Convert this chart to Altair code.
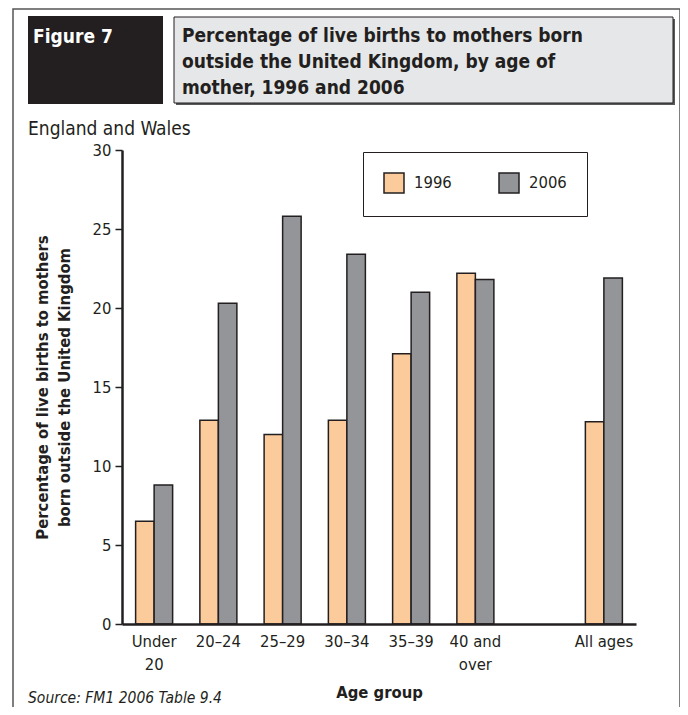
import altair as alt
import pandas as pd

categories = ["Under|20", "20–24", "25–29", "30–34", "35–39", "40 and|over", " ", "All ages"]
data_categories = ["Under|20", "20–24", "25–29", "30–34", "35–39", "40 and|over", "All ages"]
values_1996 = [6.5, 12.9, 12.0, 12.9, 17.1, 22.2, 12.8]
values_2006 = [8.8, 20.3, 25.8, 23.4, 21.0, 21.8, 21.9]
series = ["1996", "2006"]
colors = ["#fccb9c", "#939598"]
y_ticks = [0, 5, 10, 15, 20, 25, 30]

rows = []
for c, a, b in zip(data_categories, values_1996, values_2006):
    rows.append({"age": c, "year": "1996", "pct": a})
    rows.append({"age": c, "year": "2006", "pct": b})
df = pd.DataFrame(rows)

FONT = "Liberation Sans Narrow, DejaVu Sans Condensed, Liberation Sans, sans-serif"
INK = "#231f20"
W, H = 514, 474

bars = alt.Chart(df).mark_bar(stroke=INK, strokeWidth=1.5).encode(
    x=alt.X("age:N", sort=categories,
            scale=alt.Scale(domain=categories, paddingInner=0.424, paddingOuter=0.212),
            axis=alt.Axis(title="Age group", labelAngle=0, ticks=False, zindex=1,
                          labelExpr="split(datum.label, '|')",
                          labelFontSize=16.5, labelFont=FONT, labelColor=INK,
                          labelLineHeight=23, labelPadding=9, labelBaseline="top",
                          titleFontSize=16.5, titleFont=FONT, titleFontWeight="bold",
                          titleColor=INK, titlePadding=12,
                          domainColor=INK, domainWidth=2.5)),
    xOffset=alt.XOffset("year:N", sort=series),
    y=alt.Y("pct:Q", scale=alt.Scale(domain=[0, 30], nice=False),
            axis=alt.Axis(values=y_ticks, title=["Percentage of live births to mothers",
                                                  "born outside the United Kingdom"],
                          grid=False, tickSize=7, tickWidth=1.5, tickColor=INK, zindex=1,
                          labelFontSize=16.5, labelFont=FONT, labelColor=INK, labelPadding=4,
                          titleFontSize=16.5, titleFont=FONT, titleFontWeight="bold",
                          titleColor=INK, titleLineHeight=22, titlePadding=20,
                          domainColor=INK, domainWidth=2.5)),
    color=alt.Color("year:N", scale=alt.Scale(domain=series, range=colors),
                    legend=alt.Legend(title=None, orient="none", legendX=241, legendY=2,
                                      direction="horizontal", strokeColor=INK,
                                      fillColor="white", padding=20, symbolType="square",
                                      symbolSize=400, symbolStrokeColor=INK,
                                      symbolStrokeWidth=1.5, labelFontSize=16.5,
                                      labelFont=FONT, labelColor=INK, labelOffset=9,
                                      columnPadding=44, symbolOpacity=1)),
)

one = pd.DataFrame({"k": [0]})

frame = alt.Chart(one).mark_rect(fill="white", fillOpacity=0, stroke="#555555",
                                 strokeWidth=1.5).encode(
    x=alt.value(-109), x2=alt.value(558), y=alt.value(-141), y2=alt.value(600))

black_box = alt.Chart(one).mark_rect(fill="#231f20").encode(
    x=alt.value(-94), x2=alt.value(41), y=alt.value(-134), y2=alt.value(-46))

shadow = alt.Chart(one).mark_rect(fill="#58595b").encode(
    x=alt.value(54), x2=alt.value(553), y=alt.value(-131), y2=alt.value(-45))

gray_box = alt.Chart(one).mark_rect(fill="#e6e7e8", stroke=INK, strokeWidth=1).encode(
    x=alt.value(52), x2=alt.value(551), y=alt.value(-133), y2=alt.value(-47))

fig_label = alt.Chart(pd.DataFrame({"t": ["Figure 7"]})).mark_text(
    align="left", baseline="alphabetic", font=FONT, fontSize=19, fontWeight="bold",
    color="white").encode(x=alt.value(-89), y=alt.value(-107), text="t:N")

title_lines = ["Percentage of live births to mothers born",
               "outside the United Kingdom, by age of",
               "mother, 1996 and 2006"]
title = alt.Chart(pd.DataFrame({"t": [title_lines]})).mark_text(
    align="left", baseline="alphabetic", font=FONT, fontSize=19, fontWeight="bold",
    color=INK, lineHeight=26).encode(x=alt.value(60), y=alt.value(-108), text="t")

subtitle = alt.Chart(pd.DataFrame({"t": ["England and Wales"]})).mark_text(
    align="left", baseline="alphabetic", font=FONT, fontSize=19, color=INK).encode(
    x=alt.value(-94), y=alt.value(-15), text="t:N")

source = alt.Chart(pd.DataFrame({"t": ["Source: FM1 2006 Table 9.4"]})).mark_text(
    align="left", baseline="alphabetic", font=FONT, fontSize=15.5, fontStyle="italic",
    color=INK).encode(x=alt.value(-94), y=alt.value(553), text="t:N")

chart = alt.layer(frame, black_box, shadow, gray_box, fig_label, title, subtitle, source,
                  bars).properties(
    width=W, height=H,
    background="white",
    autosize=alt.AutoSizeParams(type="none"),
    padding={"left": 114, "top": 142, "right": 44, "bottom": 83},
).configure_view(stroke=None, strokeWidth=0)

chart.save("out.html", embed_options={"renderer": "svg", "actions": False})
